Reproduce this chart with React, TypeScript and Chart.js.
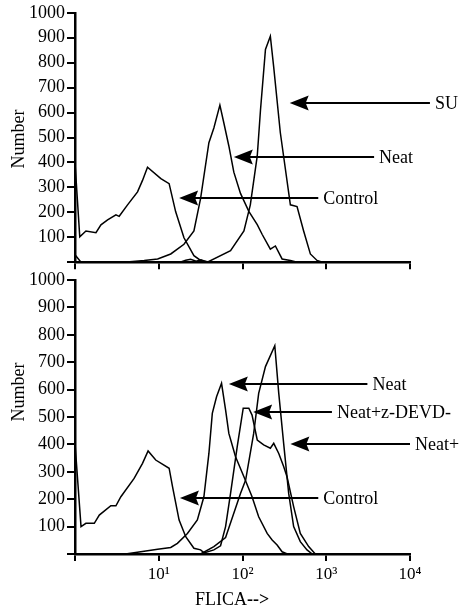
import React, { useEffect, useRef } from 'react';
import { Chart, registerables } from 'chart.js';

Chart.register(...registerables);

// ---------- Data (FLICA fluorescence value, cell count) ----------
// Top panel
const topControlX = [1, 1.14, 1.35, 1.78, 2.04, 2.45, 3.08, 3.37, 4.24, 5.58, 6.4, 7.34, 10.6, 13.3, 15.9, 20, 26.3, 31.6, 41.6];
const topControlY = [400, 102, 125, 118, 150, 170, 190, 184, 230, 282, 328, 381, 335, 315, 203, 98, 26, 7, 0];

const topNeatX = [1, 1.18, 4.5, 6.7, 9.7, 13.9, 20, 26.3, 31.6, 39.7, 45.5, 53.7, 59.9, 68.7, 78.8, 94.6, 119, 150, 172, 215, 247, 297, 373, 450];
const topNeatY = [30, 0, 2, 7, 13, 33, 72, 125, 256, 479, 538, 630, 558, 466, 361, 276, 204, 151, 111, 52, 65, 13, 7, 0];

const topSUX = [1, 18, 21, 24, 28, 32, 38, 72, 104, 124, 150, 164, 188, 215, 236, 283, 373, 448, 537, 646, 776, 900];
const topSUY = [0, 0, 8, 12, 4, 10, 0, 46, 125, 230, 426, 610, 853, 906, 781, 519, 230, 223, 125, 33, 7, 0];

// Bottom panel
const botControlX = [1, 1.18, 1.35, 1.7, 1.95, 2.68, 3.08, 3.53, 5.08, 6.4, 7.46, 9.2, 13.3, 14.6, 17.5, 21, 26.3, 31.6, 36.3];
const botControlY = [404, 100, 112, 112, 142, 176, 176, 209, 276, 331, 376, 343, 313, 246, 124, 63, 21, 15, 0];

const botNeatX = [1, 4, 6.1, 9.7, 13.9, 16.7, 22, 28.9, 34.6, 39.7, 43.6, 49, 56.2, 62.8, 68.7, 82.6, 104, 130, 156, 197, 226, 259, 297, 343];
const botNeatY = [0, 0, 8, 17, 24, 39, 75, 124, 209, 367, 513, 574, 623, 526, 440, 355, 282, 209, 136, 75, 51, 33, 8, 0];

const botDevdX = [1, 31.6, 45.5, 54.7, 62.8, 72, 86.5, 102, 119, 130, 150, 179, 215, 236, 271, 310, 340, 408, 490, 617, 740];
const botDevdY = [0, 0, 15, 30, 100, 221, 392, 532, 532, 507, 416, 398, 386, 404, 367, 319, 282, 173, 75, 27, 0];

const botNeatPlusX = [1, 31.6, 45.5, 62.8, 94.6, 109, 136, 156, 188, 243, 271, 310, 356, 408, 490, 589, 681];
const botNeatPlusY = [0, 0, 27, 60, 221, 270, 440, 586, 684, 760, 586, 404, 221, 100, 45, 15, 0];

// Axis ticks
const xTickValues = [1, 10, 100, 1000, 10000];
const xTickLabels = ['', '10\u00B9', '10\u00B2', '10\u00B3', '10\u2074'];

// Annotations: label, arrow tip x, line end x, y (data units)
const topAnnLabels = ['SU', 'Neat', 'Control'];
const topAnnTip = [366, 78.8, 17.5];
const topAnnEnd = [17300, 3727, 803];
const topAnnY = [640, 420, 259];

const botAnnLabels = ['Neat', 'Neat+z-DEVD-', 'Neat+', 'Control'];
const botAnnTip = [68.7, 134, 373, 17.9];
const botAnnEnd = [3100, 1169, 10000, 803];
const botAnnY = [620, 519, 403, 203];

const FONT = '"Liberation Serif", "Times New Roman", serif';

function pts(xs: number[], ys: number[]) {
  return xs.map((x, i) => ({ x, y: ys[i] }));
}

function ds(xs: number[], ys: number[]) {
  return {
    data: pts(xs, ys),
    borderColor: '#000',
    borderWidth: 1.5,
    pointRadius: 0,
    fill: false,
    tension: 0,
  };
}

function overlay(labels: string[], tips: number[], ends: number[], ys: number[], titleY: number, xTitle: boolean) {
  return {
    id: 'overlay',
    afterDraw(chart: any) {
      const ctx = chart.ctx;
      const xs = chart.scales.x;
      const yS = chart.scales.y;
      ctx.save();
      labels.forEach((lab, i) => {
        const tx = xs.getPixelForValue(tips[i]);
        const ex = xs.getPixelForValue(ends[i]);
        const y = Math.round(yS.getPixelForValue(ys[i]));
        ctx.strokeStyle = '#000';
        ctx.lineWidth = 2;
        ctx.beginPath();
        ctx.moveTo(tx + 14, y);
        ctx.lineTo(ex, y);
        ctx.stroke();
        ctx.fillStyle = '#000';
        ctx.beginPath();
        ctx.moveTo(tx, y);
        ctx.lineTo(tx + 19, y - 7.5);
        ctx.lineTo(tx + 16, y);
        ctx.lineTo(tx + 19, y + 7.5);
        ctx.closePath();
        ctx.fill();
        ctx.font = '18px ' + FONT;
        ctx.textAlign = 'left';
        ctx.textBaseline = 'middle';
        ctx.fillText(lab, ex + 5, y + 1);
      });
      // y-axis title
      ctx.save();
      ctx.translate(19, titleY);
      ctx.rotate(-Math.PI / 2);
      ctx.font = '18px ' + FONT;
      ctx.textAlign = 'center';
      ctx.textBaseline = 'middle';
      ctx.fillStyle = '#000';
      ctx.fillText('Number', 0, 0);
      ctx.restore();
      if (xTitle) {
        ctx.font = '18px ' + FONT;
        ctx.textAlign = 'left';
        ctx.textBaseline = 'middle';
        ctx.fillStyle = '#000';
        const x0 = 195;
        const yT = chart.height - 13;
        ctx.fillText('FLICA', x0, yT);
        const w = ctx.measureText('FLICA').width;
        ctx.font = 'bold 18px ' + FONT;
        ctx.fillText('-->', x0 + w, yT);
      }
      ctx.restore();
    },
  };
}

function makeOptions(showXLabels: boolean, padTop: number, xHeight: number) {
  return {
    responsive: false,
    animation: false as const,
    layout: { padding: { left: 0, right: 49, top: padTop, bottom: 0 } },
    plugins: { legend: { display: false }, tooltip: { enabled: false } },
    scales: {
      x: {
        type: 'logarithmic' as const,
        min: 1,
        max: 10000,
        afterBuildTicks: (s: any) => {
          s.ticks = xTickValues.map((v) => ({ value: v }));
        },
        afterFit: (s: any) => {
          s.height = xHeight;
        },
        ticks: {
          display: showXLabels,
          autoSkip: false,
          maxRotation: 0,
          padding: 3,
          color: '#000',
          font: { family: FONT, size: 17 },
          callback: (v: any) => {
            const i = xTickValues.indexOf(Number(v));
            return i >= 0 ? xTickLabels[i] : '';
          },
        },
        grid: { drawOnChartArea: false, drawTicks: true, tickLength: 7, color: '#000', lineWidth: 2 },
        border: { display: true, color: '#000', width: 2.5 },
      },
      y: {
        min: 0,
        max: 1000,
        afterFit: (s: any) => {
          s.width = 75;
        },
        ticks: {
          stepSize: 100,
          padding: 2,
          color: '#000',
          font: { family: FONT, size: 18 },
          callback: (v: any) => (Number(v) === 0 ? '' : String(v)),
        },
        grid: { drawOnChartArea: false, drawTicks: true, tickLength: 8, color: '#000', lineWidth: 2 },
        border: { display: true, color: '#000', width: 2.5 },
      },
    },
  };
}

export default function App() {
  const topRef = useRef<HTMLCanvasElement>(null);
  const botRef = useRef<HTMLCanvasElement>(null);

  useEffect(() => {
    const top = new Chart(topRef.current as HTMLCanvasElement, {
      type: 'line',
      data: {
        datasets: [ds(topControlX, topControlY), ds(topNeatX, topNeatY), ds(topSUX, topSUY)],
      },
      options: makeOptions(false, 11, 10) as any,
      plugins: [overlay(topAnnLabels, topAnnTip, topAnnEnd, topAnnY, 139, false)],
    });
    const bot = new Chart(botRef.current as HTMLCanvasElement, {
      type: 'line',
      data: {
        datasets: [
          ds(botControlX, botControlY),
          ds(botNeatX, botNeatY),
          ds(botDevdX, botDevdY),
          ds(botNeatPlusX, botNeatPlusY),
        ],
      },
      options: makeOptions(true, 14, 59) as any,
      plugins: [overlay(botAnnLabels, botAnnTip, botAnnEnd, botAnnY, 126, true)],
    });
    return () => {
      top.destroy();
      bot.destroy();
    };
  }, []);

  return (
    <div style={{ position: 'absolute', left: 0, top: 0, width: 459, height: 613, background: '#fff' }}>
      <canvas ref={topRef} width={459} height={275} style={{ position: 'absolute', left: 0, top: 0 }} />
      <canvas ref={botRef} width={459} height={347} style={{ position: 'absolute', left: 0, top: 266 }} />
    </div>
  );
}
